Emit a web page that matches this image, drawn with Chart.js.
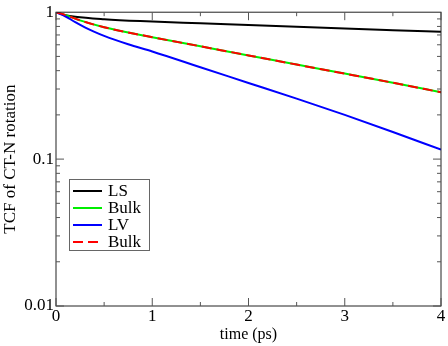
<!DOCTYPE html>
<html>
<head>
<meta charset="utf-8">
<script src="https://cdn.jsdelivr.net/npm/chart.js@4/dist/chart.umd.min.js"></script>
<style>
  html, body { margin: 0; padding: 0; background: #fff; }
  #c { display: block; }
</style>
</head>
<body>
<canvas id="c" width="448" height="346"></canvas>
<script>
const timeLS = [0, 0.1, 0.2, 0.5, 0.875, 1.5, 2, 2.5, 3, 3.5, 4];
const tcfLS = [1, 0.955, 0.932, 0.897, 0.87, 0.84, 0.818, 0.796, 0.774, 0.754, 0.735];

const timeBulk = [0, 0.1, 0.25, 0.5, 1, 1.5, 2, 2.5, 3, 3.5, 4];
const tcfBulk = [1, 0.955, 0.88, 0.79, 0.676, 0.586, 0.508, 0.44, 0.382, 0.331, 0.285];

const timeLV = [0, 0.1, 0.2, 0.3, 0.4, 0.5, 0.75, 1, 1.5, 2, 2.5, 3, 3.5, 4];
const tcfLV = [1, 0.935, 0.856, 0.789, 0.735, 0.69, 0.605, 0.54, 0.422, 0.33, 0.258, 0.2, 0.153, 0.116];

const xTicks = [0, 1, 2, 3, 4];
const yTicks = [0.01, 0.1, 1];

const serif = "'Liberation Serif', 'DejaVu Serif', serif";

function pts(xs, ys) {
    return xs.map((x, i) => ({ x: x, y: ys[i] }));
}

const framePlugin = {
    id: 'frame',
    afterDatasetsDraw(chart) {
        const ctx = chart.ctx;
        const a = chart.chartArea;
        const xs = chart.scales.x;
        const ys = chart.scales.y;
        ctx.save();
        ctx.strokeStyle = '#222';
        ctx.lineWidth = 1;
        ctx.strokeRect(a.left, a.top, a.right - a.left, a.bottom - a.top);

        ctx.strokeStyle = '#555';
        // x ticks, inward on bottom and top
        for (let v = 0; v <= 4.0001; v += 0.5) {
            const px = xs.getPixelForValue(v);
            const len = Math.abs(v - Math.round(v)) < 1e-6 ? 8 : 4;
            ctx.beginPath();
            ctx.moveTo(px, a.bottom); ctx.lineTo(px, a.bottom - len);
            ctx.moveTo(px, a.top); ctx.lineTo(px, a.top + len);
            ctx.stroke();
        }
        // y ticks (log), inward on left and right
        for (let d = -2; d < 0; d++) {
            for (let m = 1; m <= 9; m++) {
                const v = m * Math.pow(10, d);
                const py = ys.getPixelForValue(v);
                const len = m === 1 ? 8 : 4;
                ctx.beginPath();
                ctx.moveTo(a.left, py); ctx.lineTo(a.left + len, py);
                ctx.moveTo(a.right, py); ctx.lineTo(a.right - len, py);
                ctx.stroke();
            }
        }

        // legend box
        const bx = 69, by = 179, bw = 80, bh = 71;
        ctx.fillStyle = '#fff';
        ctx.fillRect(bx, by, bw, bh);
        ctx.strokeStyle = '#666';
        ctx.strokeRect(bx + 0.5, by + 0.5, bw, bh);
        ctx.font = '17px ' + serif;
        ctx.textBaseline = 'middle';
        ctx.fillStyle = '#000';
        chart.data.datasets.forEach((ds, i) => {
            const ry = by + 12 + i * 17;
            ctx.strokeStyle = ds.borderColor;
            ctx.lineWidth = 2;
            ctx.setLineDash(ds.borderDash || []);
            ctx.beginPath();
            ctx.moveTo(bx + 4, ry); ctx.lineTo(bx + 33, ry);
            ctx.stroke();
            ctx.setLineDash([]);
            ctx.fillText(ds.label, bx + 39, ry + 1);
        });
        ctx.restore();
    }
};

const config = {
    type: 'line',
    data: {
        datasets: [
            { label: 'LS', data: pts(timeLS, tcfLS), borderColor: '#000000', order: 3 },
            { label: 'Bulk', data: pts(timeBulk, tcfBulk), borderColor: '#00ee00', order: 2 },
            { label: 'LV', data: pts(timeLV, tcfLV), borderColor: '#0000ff', order: 1 },
            { label: 'Bulk', data: pts(timeBulk, tcfBulk), borderColor: '#ff0000', borderDash: [10, 5], order: 0 }
        ]
    },
    options: {
        responsive: false,
        animation: false,
        layout: { padding: { top: 7, right: 7, left: 0, bottom: 0 } },
        elements: {
            point: { radius: 0 },
            line: { borderWidth: 2, cubicInterpolationMode: 'monotone', fill: false }
        },
        plugins: {
            legend: { display: false },
            tooltip: { enabled: false }
        },
        scales: {
            x: {
                type: 'linear',
                min: 0,
                max: 4,
                afterBuildTicks: (s) => { s.ticks = xTicks.map(v => ({ value: v })); },
                afterFit: (s) => { s.height = 40; },
                grid: { display: false, drawTicks: false },
                border: { display: false },
                ticks: { color: '#000', font: { family: serif, size: 17 }, padding: 0 },
                title: { display: true, text: 'time (ps)', color: '#000', font: { family: serif, size: 16 }, padding: { top: 0, bottom: 2 } }
            },
            y: {
                type: 'logarithmic',
                min: 0.01,
                max: 1,
                afterBuildTicks: (s) => { s.ticks = yTicks.map(v => ({ value: v })); },
                afterFit: (s) => { s.width = 56; },
                grid: { display: false, drawTicks: false },
                border: { display: false },
                ticks: {
                    color: '#000',
                    font: { family: serif, size: 17 },
                    padding: 2,
                    callback: (v) => String(v)
                },
                title: { display: true, text: 'TCF of CT-N rotation', color: '#000', font: { family: serif, size: 17 }, padding: 0 }
            }
        }
    },
    plugins: [framePlugin]
};

const myChart = new Chart(document.getElementById('c').getContext('2d'), config);
</script>
</body>
</html>
